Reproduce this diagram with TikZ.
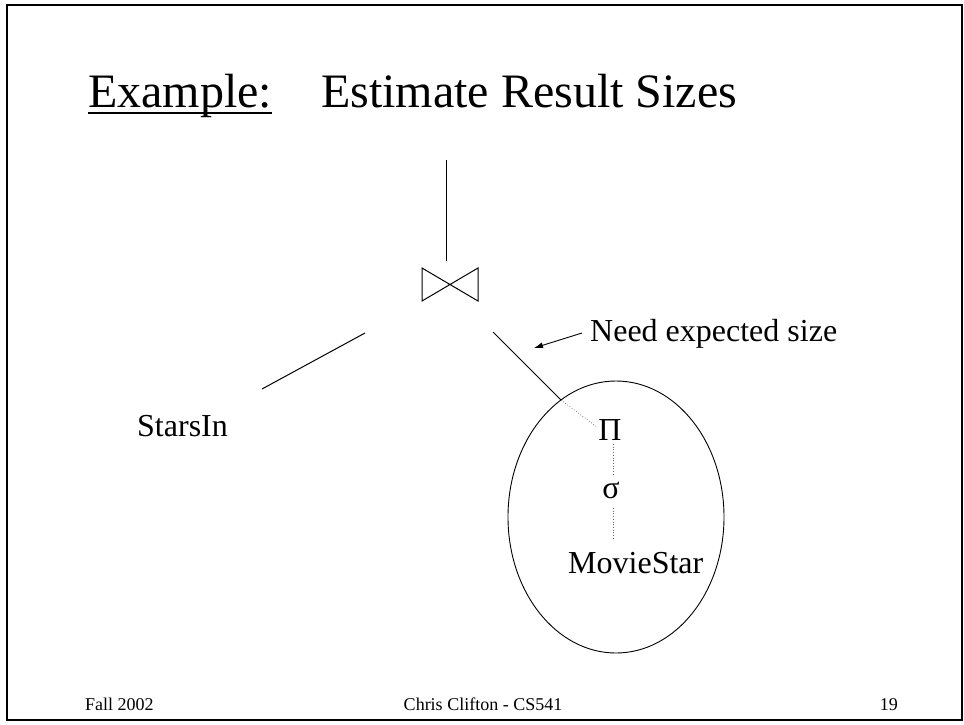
\documentclass[tikz,border=0pt]{standalone}
\usepackage{fontspec}
\setmainfont{Liberation Serif}
\newfontfamily\tnr{Liberation Serif}
\usetikzlibrary{shapes.geometric,arrows.meta,calc}
\begin{document}
\begin{tikzpicture}[x=1pt,y=-1pt,
  txt/.style={inner sep=0pt, font=\tnr\fontsize{32}{38}\selectfont},
  ttl/.style={inner sep=0pt, font=\tnr\fontsize{48}{58}\selectfont},
  foot/.style={inner sep=0pt, font=\tnr\fontsize{18}{22}\selectfont},
  edge/.style={line width=1pt},
  dotedge/.style={dotted, line width=0.7pt, black!60}]
\useasboundingbox (0,0) rectangle (964,724);
% frame
\draw[line width=2.5pt] (7,5) rectangle (962,720);
% title
\node[ttl, anchor=base west] (t1) at (88,107) {Example:};
\node[ttl, anchor=base west] (t2) at (321,107) {Estimate Result Sizes};
\draw[line width=2.5pt] ($(t1.base west)+(0,6)$) -- ($(t1.base east)+(0,6)$);
% join
\coordinate (join) at (450,284.5);
\draw[edge] (422,268) -- (478,301) -- (478,268) -- (422,301) -- cycle;
\coordinate (jtop) at (446,160);
\coordinate (jtopb) at (446,261);
\draw[edge] (jtop) -- (jtopb);
% left branch
\coordinate (l1) at (365,333);
\coordinate (l2) at (262,389);
\draw[edge] (l1) -- (l2);
\node[txt, anchor=base west] (stars) at (137,436) {StarsIn};
% right branch
\coordinate (r1) at (493,332);
\coordinate (r2) at (561,400);
\coordinate (r3) at (597,427);
\draw[edge] (r1) -- (r2);
\draw[dotedge] (r2) -- (r3);
% ellipse
\node[draw, ellipse, line width=0.9pt, minimum width=216pt, minimum height=272pt, inner sep=0pt] (ell) at (616,517) {};
\node[txt, anchor=base] (pi) at (610,440) {Π};
\node[txt, anchor=base] (sig) at (611,498) {σ};
\node[txt, anchor=base west] (movie) at (568,573) {MovieStar};
\draw[dotedge] (613,444) -- (613,476);
\draw[dotedge] (613,508) -- (613,538);
% annotation
\node[txt, anchor=base west] (need) at (590,341) {Need expected size};
\coordinate (atail) at (582,333);
\coordinate (ahead) at (534,348);
\draw[line width=0.9pt, -{Latex[length=9pt,width=6pt]}] (atail) -- (ahead);
% footer
\node[foot, anchor=base west] (f1) at (85,710) {Fall 2002};
\node[foot, anchor=base] (f2) at (483,710) {Chris Clifton - CS541};
\node[foot, anchor=base east] (f3) at (898,710) {19};
\end{tikzpicture}
\end{document}
